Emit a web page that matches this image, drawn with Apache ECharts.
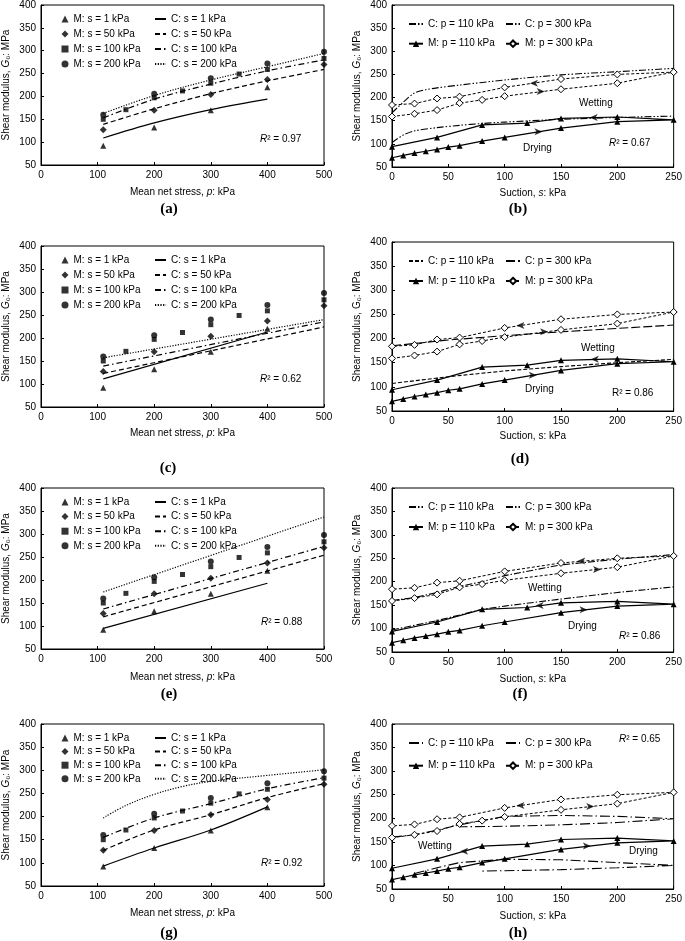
<!DOCTYPE html>
<html>
<head>
<meta charset="utf-8">
<script src="https://cdn.jsdelivr.net/npm/echarts@6/dist/echarts.min.js"></script>
<style>html,body{margin:0;padding:0;background:#fff}#chart{width:685px;height:941px}</style>
</head>
<body>
<div id="chart"></div>
<script>
// ===================== DATA =====================
// Axis ranges / ticks
const P_TICKS = [0, 100, 200, 300, 400, 500];
const S_TICKS = [0, 50, 100, 150, 200, 250];
const G_TICKS = [50, 100, 150, 200, 250, 300, 350, 400];

// Measured points, mean net stress panels (a, c, e, g)
const M_s1_p   = [110, 200, 300, 400];
const M_s1_G   = [92, 132, 170, 220];
const M_s50_p  = [110, 200, 300, 400, 500];
const M_s50_G  = [127, 170, 204, 237, 270];
const M_s100_p = [110, 150, 200, 250, 300, 350, 400, 500];
const M_s100_G = [150, 171, 197, 212, 229, 249, 259, 283];
const M_s200_p = [110, 200, 300, 400, 500];
const M_s200_G = [160, 206, 240, 272, 298];

// Computed curves, panel (a)
const a_C1_p = [110, 200, 300, 400];            const a_C1_G = [109, 142, 171, 194];
const a_C50_p = [110, 200, 300, 400, 500];      const a_C50_G = [139, 173, 206, 234, 259];
const a_C100_p = [110, 200, 300, 400, 500];     const a_C100_G = [153, 194, 227, 256, 280];
const a_C200_p = [110, 200, 300, 400, 500];     const a_C200_G = [163, 202, 236, 265, 294];
// panel (c)
const c_C1_p = [110, 400];   const c_C1_G = [111, 213];
const c_C50_p = [110, 500];  const c_C50_G = [123, 224];
const c_C100_p = [110, 500]; const c_C100_G = [139, 235];
const c_C200_p = [110, 500]; const c_C200_G = [157, 240];
// panel (e)
const e_C1_p = [110, 400];   const e_C1_G = [95, 193];
const e_C50_p = [110, 500];  const e_C50_G = [120, 254];
const e_C100_p = [110, 500]; const e_C100_G = [137, 273];
const e_C200_p = [110, 500]; const e_C200_G = [174, 337];
// panel (g)
const g_C1_p = [110, 200, 300, 400];                    const g_C1_G = [93, 132, 171, 221];
const g_C50_p = [110, 200, 300, 400, 500];              const g_C50_G = [127, 171, 204, 241, 271];
const g_C100_p = [110, 200, 300, 400, 500];             const g_C100_G = [155, 197, 228, 260, 284];
const g_C200_p = [110, 150, 200, 250, 300, 400, 500];   const g_C200_G = [197, 224, 248, 265, 276, 289, 301];

// Measured points, suction panels (b, d, f, h): drying path then wetting path
const M_p110_s = [0, 10, 20, 30, 40, 50, 60, 80, 100, 150, 200, 250, 200, 150, 120, 80, 40, 0];
const M_p110_G = [70, 75, 80, 84, 88, 93, 96, 106, 114, 134, 148, 152, 158, 155, 145, 141, 114, 94];
const M_p300_s = [0, 20, 40, 60, 80, 100, 150, 200, 250, 200, 150, 100, 60, 40, 20, 0];
const M_p300_G = [159, 165, 173, 188, 195, 203, 218, 231, 255, 250, 240, 222, 202, 198, 187, 184];

// Computed curves, panel (b)
const b_C110_s = [0, 10, 20, 40, 60, 80, 100, 150, 200, 250];
const b_C110_G = [103, 119, 128, 135, 140, 144, 147, 153, 157, 160];
const b_C300_s = [0, 10, 20, 30, 40, 60, 100, 150, 200, 250];
const b_C300_G = [167, 190, 210, 217, 221, 227, 238, 249, 256, 263];
// panel (d)
const d_C110_s = [0, 50, 100, 150, 200, 250];
const d_C110_G = [107, 121, 133, 142, 150, 157];
const d_C300_s = [0, 50, 100, 150, 200, 250];
const d_C300_G = [185, 197, 206, 214, 221, 228];
// panel (f)
const f_C110_s = [0, 40, 80, 100, 150, 200, 250];
const f_C110_G = [97, 117, 141, 148, 163, 177, 189];
const f_C300_s = [0, 20, 40, 60, 80, 100, 150, 200, 250];
const f_C300_G = [160, 166, 177, 190, 200, 213, 236, 248, 258];
// panel (h)
const h_C110_s = [20, 40, 60, 100, 150, 200, 250, 200, 150, 80];
const h_C110_G = [83, 95, 106, 113, 112, 106, 100, 95, 91, 88];
const h_C300_s = [0, 20, 40, 60, 100, 150, 200, 250, 200, 150, 100, 60];
const h_C300_G = [160, 165, 175, 186, 204, 206, 204, 199, 191, 186, 183, 182];

// Path-direction arrows (s, G, direction: 1 = drying →, -1 = wetting ←)
const b_arr_s = [126, 132, 179, 130]; const b_arr_G = [231, 213, 157, 126]; const b_arr_d = [-1, 1, -1, 1];
const d_arr_s = [114, 135, 180, 125]; const d_arr_G = [227, 214, 157, 124]; const d_arr_d = [-1, 1, -1, 1];
const f_arr_s = [168, 182, 131, 170]; const f_arr_G = [244, 226, 149, 140]; const f_arr_d = [-1, 1, -1, 1];
const h_arr_s = [114, 176, 64, 173];  const h_arr_G = [227, 225, 130, 141]; const h_arr_d = [-1, 1, -1, 1];

// Text
const R2 = {a: '0.97', b: '0.67', c: '0.62', d: '0.86', e: '0.88', f: '0.86', g: '0.92', h: '0.65'};

// ===================== LAYOUT / STYLE =====================
const FONT = 'Liberation Sans';
const BLACK = '#000';
const rich = {i: {fontStyle: 'italic', fontSize: 10, fontFamily: FONT, color: BLACK}};

const LEFT = {
  a: {grid: {left: 41, top: 4, width: 283, height: 161}, lgTop: 9, lgGap: 5, r2: [260, 139], lab: [169, 209], xGap: 22, smooth: true},
  c: {grid: {left: 41, top: 246, width: 283, height: 161}, lgTop: 250, lgGap: 5, r2: [260, 379], lab: [168, 468], xGap: 21, smooth: false},
  e: {grid: {left: 41, top: 488, width: 283, height: 161}, lgTop: 492, lgGap: 4.6, r2: [261, 622], lab: [169, 694], xGap: 23, smooth: false},
  g: {grid: {left: 41, top: 724, width: 283, height: 162}, lgTop: 728, lgGap: 3.6, r2: [261, 863], lab: [169, 933], xGap: 22, smooth: true}
};
const RIGHT = {
  b: {grid: {left: 392, top: 4, width: 284, height: 163}, lgTop: 14, lgGap: 9.7, r2: [609, 143], wet: [579, 103], dry: [523, 148], lab: [518, 209], xGap: 21, cType: [7, 2, 1.5, 2, 1.5, 2], cSmooth: true, italic: true},
  d: {grid: {left: 392, top: 242, width: 284, height: 169}, lgTop: 251, lgGap: 10, r2: [612, 393], wet: [581, 348], dry: [525, 389], lab: [520, 459], xGap: 20, cType: null, cSmooth: false, italic: false},
  f: {grid: {left: 392, top: 488, width: 284, height: 164}, lgTop: 497, lgGap: 10, r2: [619, 636], wet: [528, 588], dry: [568, 626], lab: [520, 694], xGap: 22, cType: [7, 2, 1.5, 2], cSmooth: false, italic: true},
  h: {grid: {left: 392, top: 724, width: 284, height: 165}, lgTop: 733, lgGap: 12.7, r2: [619, 739], wet: [418, 846], dry: [629, 851], lab: [518, 933], xGap: 22, cType: [10, 3, 1.5, 3], cSmooth: false, italic: true}
};

const pairs = (xs, ys) => xs.map((x, i) => [x, ys[i]]);
const grids = [], xAxis = [], yAxis = [], series = [], legend = [], graphic = [];
const txtStyle = {color: BLACK, fontSize: 10, fontFamily: FONT};
const lineOnly = n => ({name: n, itemStyle: {opacity: 0}});

function addAxes(L, kind, italicY) {
  const gi = grids.length;
  grids.push(Object.assign({show: true, borderColor: BLACK, borderWidth: 1}, L.grid));
  const ticks = kind === 'p' ? P_TICKS : S_TICKS;
  const common = {
    type: 'value', gridIndex: gi, nameLocation: 'middle',
    nameTextStyle: Object.assign({rich}, txtStyle),
    axisLine: {show: true, onZero: false, lineStyle: {color: BLACK, width: 1}},
    axisTick: {show: true, inside: true, length: 3, lineStyle: {color: BLACK}},
    axisLabel: Object.assign({margin: 5}, txtStyle),
    splitLine: {show: false}
  };
  xAxis.push(Object.assign({}, common, {
    min: ticks[0], max: ticks[ticks.length - 1], interval: ticks[1] - ticks[0],
    name: kind === 'p' ? 'Mean net stress, {i|p}: kPa' : (L.italic ? 'Suction, {i|s}: kPa' : 'Suction, s: kPa'),
    nameGap: L.xGap
  }));
  yAxis.push(Object.assign({}, common, {
    min: G_TICKS[0], max: G_TICKS[G_TICKS.length - 1], interval: G_TICKS[1] - G_TICKS[0],
    name: italicY ? 'Shear modulus, {i|G}\u2080: MPa' : 'Shear modulus, G\u2080: MPa',
    nameGap: 30
  }));
  return gi;
}

function text(x, y, t, extra) {
  graphic.push({type: 'text', x, y, silent: true, style: Object.assign({
    text: t, fill: BLACK, fontSize: 10, fontFamily: FONT,
    textVerticalAlign: 'middle', verticalAlign: 'middle', rich: {i: {fontStyle: 'italic', fontSize: 10, fontFamily: FONT, fill: BLACK}}
  }, extra || {})});
}
function panelLabel(xy, id) {
  text(xy[0], xy[1], '(' + id + ')', {fontSize: 15, fontWeight: 'bold', fontFamily: 'Liberation Serif', textAlign: 'center', align: 'center'});
}

// ---------- left panels ----------
const LEFT_C = {
  a: [[a_C1_p, a_C1_G], [a_C50_p, a_C50_G], [a_C100_p, a_C100_G], [a_C200_p, a_C200_G]],
  c: [[c_C1_p, c_C1_G], [c_C50_p, c_C50_G], [c_C100_p, c_C100_G], [c_C200_p, c_C200_G]],
  e: [[e_C1_p, e_C1_G], [e_C50_p, e_C50_G], [e_C100_p, e_C100_G], [e_C200_p, e_C200_G]],
  g: [[g_C1_p, g_C1_G], [g_C50_p, g_C50_G], [g_C100_p, g_C100_G], [g_C200_p, g_C200_G]]
};
const M_LEFT = [[M_s1_p, M_s1_G], [M_s50_p, M_s50_G], [M_s100_p, M_s100_G], [M_s200_p, M_s200_G]];
const SUCTIONS = ['1', '50', '100', '200'];
const M_SYM = [['triangle', 6], ['diamond', 7], ['rect', 5], ['circle', 6]];
const C_DASH = ['solid', [5, 3], [6, 3, 1.5, 3], [1.2, 1.5]];

for (const id of ['a', 'c', 'e', 'g']) {
  const L = LEFT[id];
  const gi = addAxes(L, 'p', true);
  const mNames = [], cNames = [];
  SUCTIONS.forEach((s, k) => {
    const mn = 'M: s = ' + s + ' kPa', cn = 'C: s = ' + s + ' kPa';
    mNames.push(mn); cNames.push(lineOnly(cn));
    series.push({type: 'scatter', name: mn, xAxisIndex: gi, yAxisIndex: gi,
      symbol: M_SYM[k][0], symbolSize: M_SYM[k][1], itemStyle: {color: BLACK},
      data: pairs(M_LEFT[k][0], M_LEFT[k][1]), z: 4});
    series.push({type: 'line', name: cn, xAxisIndex: gi, yAxisIndex: gi,
      symbol: 'none', smooth: L.smooth ? 0.35 : false, itemStyle: {color: BLACK},
      lineStyle: {color: BLACK, width: 1.2, type: C_DASH[k]},
      data: pairs(LEFT_C[id][k][0], LEFT_C[id][k][1]), z: 3});
  });
  legend.push({orient: 'vertical', left: 56.5, top: L.lgTop, itemWidth: 7, itemHeight: 7, itemGap: L.lgGap,
    data: mNames, textStyle: txtStyle, selectedMode: false});
  legend.push({orient: 'vertical', left: 149, top: L.lgTop, itemWidth: 11, itemHeight: 7, itemGap: L.lgGap,
    data: cNames, textStyle: txtStyle, selectedMode: false, lineStyle: {color: BLACK}});
  text(L.r2[0], L.r2[1], '{i|R}\u00b2 = ' + R2[id]);
  panelLabel(L.lab, id);
}

// ---------- right panels ----------
const RIGHT_C = {
  b: [[b_C110_s, b_C110_G], [b_C300_s, b_C300_G]],
  d: [[d_C110_s, d_C110_G], [d_C300_s, d_C300_G]],
  f: [[f_C110_s, f_C110_G], [f_C300_s, f_C300_G]],
  h: [[h_C110_s, h_C110_G], [h_C300_s, h_C300_G]]
};
const ARROWS = {
  b: [b_arr_s, b_arr_G, b_arr_d], d: [d_arr_s, d_arr_G, d_arr_d],
  f: [f_arr_s, f_arr_G, f_arr_d], h: [h_arr_s, h_arr_G, h_arr_d]
};
const ARROW_PATH = 'path://M0,0L10,5L0,10L2.5,5Z';

for (const id of ['b', 'd', 'f', 'h']) {
  const L = RIGHT[id];
  const gi = addAxes(L, 's', L.italic);
  const c110 = id + '|C: p = 110 kPa', c300 = id + '|C: p = 300 kPa';
  const types = id === 'd' ? [[4, 2], [9, 3]] : [L.cType, L.cType];
  [c110, c300].forEach((n, k) => {
    series.push({type: 'line', name: n, xAxisIndex: gi, yAxisIndex: gi, symbol: 'none',
      smooth: L.cSmooth ? 0.3 : false, itemStyle: {color: BLACK},
      lineStyle: {color: BLACK, width: 1.1, type: types[k]},
      data: pairs(RIGHT_C[id][k][0], RIGHT_C[id][k][1]), z: 2});
  });
  series.push({type: 'line', name: 'M: p = 110 kPa', xAxisIndex: gi, yAxisIndex: gi,
    symbol: 'triangle', symbolSize: 6, showAllSymbol: true, itemStyle: {color: BLACK},
    lineStyle: {color: BLACK, width: 1.2, type: 'solid'}, data: pairs(M_p110_s, M_p110_G), z: 3});
  series.push({type: 'line', name: 'M: p = 300 kPa', xAxisIndex: gi, yAxisIndex: gi,
    symbol: 'diamond', symbolSize: 7, showAllSymbol: true,
    itemStyle: {color: '#fff', borderColor: BLACK, borderWidth: 1},
    lineStyle: {color: BLACK, width: 1, type: [3, 2]}, data: pairs(M_p300_s, M_p300_G), z: 3});
  const A = ARROWS[id];
  series.push({type: 'scatter', xAxisIndex: gi, yAxisIndex: gi, silent: true, z: 5,
    symbol: ARROW_PATH, symbolSize: [8, 7], itemStyle: {color: BLACK},
    data: A[0].map((s, i) => ({value: [s, A[1][i]], symbolRotate: A[2][i] > 0 ? 0 : 180}))});
  const fmt = n => n.indexOf('|') >= 0 ? n.split('|')[1] : n;
  legend.push({orient: 'vertical', left: 403, top: L.lgTop, itemWidth: 14, itemHeight: 8, itemGap: L.lgGap,
    data: [lineOnly(c110), 'M: p = 110 kPa'], formatter: fmt, textStyle: txtStyle, selectedMode: false, lineStyle: {color: BLACK}});
  legend.push({orient: 'vertical', left: 500, top: L.lgTop, itemWidth: 14, itemHeight: 8, itemGap: L.lgGap,
    data: [lineOnly(c300), 'M: p = 300 kPa'], formatter: fmt, textStyle: txtStyle, selectedMode: false, lineStyle: {color: BLACK}});
  text(L.r2[0], L.r2[1], (id === 'd' ? 'R' : '{i|R}') + '\u00b2 = ' + R2[id]);
  text(L.wet[0], L.wet[1], 'Wetting');
  text(L.dry[0], L.dry[1], 'Drying');
  panelLabel(L.lab, id);
}

const chart = echarts.init(document.getElementById('chart'), null, {renderer: 'canvas'});
chart.setOption({
  animation: false,
  backgroundColor: '#fff',
  grid: grids, xAxis, yAxis, series, legend, graphic
});
</script>
</body>
</html>
